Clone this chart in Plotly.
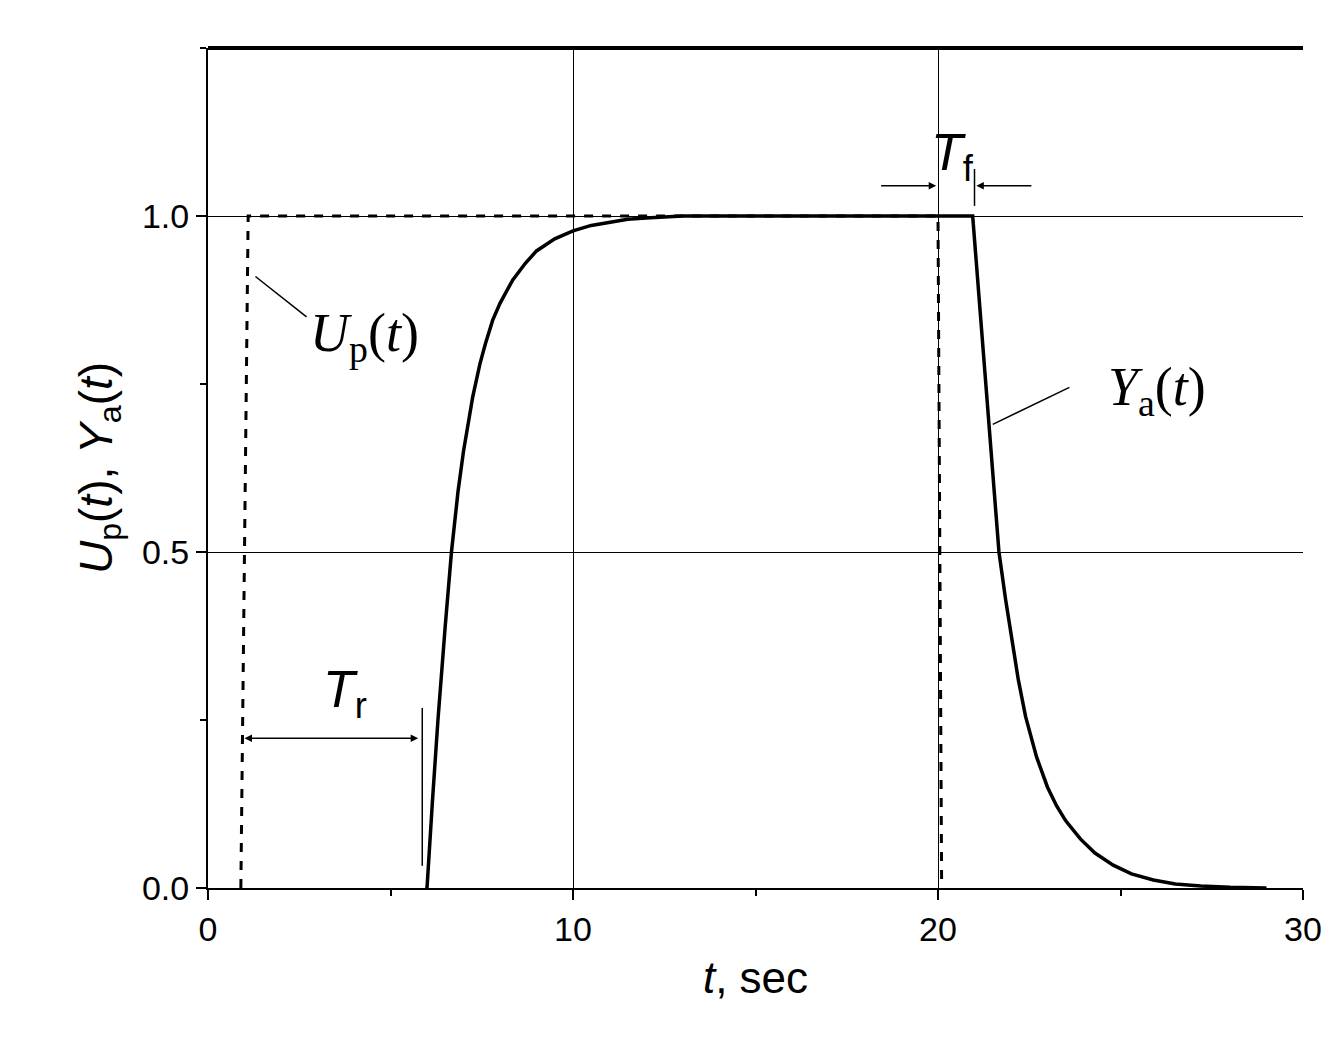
import plotly.graph_objects as go

up_t = [0.9, 1.1, 20.0, 20.1]
up_y = [0, 1.0, 1.0, 0]

ya_t = [5.95, 6.0, 6.15, 6.3, 6.5, 6.67, 6.85, 7.0, 7.25, 7.45, 7.6, 7.8, 8.0, 8.35, 8.7, 9.0, 9.5,
        10.0, 10.5, 11.0, 11.5, 12.0, 13.0, 20.95,
        21.05, 21.2, 21.35, 21.5, 21.67, 21.85, 22.0, 22.2, 22.4, 22.7, 23.0, 23.25, 23.5, 23.9,
        24.3, 24.8, 25.3, 25.9, 26.5, 27.2, 28.0, 29.0]
ya_y = [0, 0, 0.13, 0.25, 0.39, 0.5, 0.59, 0.65, 0.73, 0.78, 0.81, 0.845, 0.87, 0.905, 0.93, 0.948, 0.966,
        0.978, 0.986, 0.991, 0.995, 0.997, 1.0, 1.0,
        0.93, 0.83, 0.73, 0.63, 0.5, 0.43, 0.38, 0.31, 0.255, 0.195, 0.15, 0.122, 0.1, 0.073,
        0.052, 0.034, 0.021, 0.012, 0.006, 0.003, 0.001, 0.0]

fig = go.Figure()
fig.add_trace(go.Scatter(x=up_t, y=up_y, mode="lines", line=dict(color="black", width=3, dash="dash")))
fig.add_trace(go.Scatter(x=ya_t, y=ya_y, mode="lines", line=dict(color="black", width=3.5)))

ax = dict(showline=True, linecolor="black", linewidth=2, ticks="outside", ticklen=10, tickwidth=2,
          tickcolor="black", showgrid=True, gridcolor="black", gridwidth=1, zeroline=False,
          tickfont=dict(family="Liberation Sans, Arial", size=34, color="black"),
          minor=dict(ticks="outside", ticklen=6, tickwidth=2, tickcolor="black", showgrid=False))
fig.update_xaxes(range=[0, 30], tickvals=[0, 10, 20, 30], minor_dtick=5, **ax,
                 title=dict(text="<i>t</i>, sec", standoff=15, font=dict(family="Liberation Sans, Arial", size=44, color="black")))
fig.update_yaxes(range=[0, 1.25], tickvals=[0, 0.5, 1.0], ticktext=["0.0", "0.5", "1.0"], minor_dtick=0.25, **ax,
                 title=dict(text="<i>U</i><sub>p</sub>(<i>t</i>), <i>Y</i><sub>a</sub>(<i>t</i>)", standoff=15,
                            font=dict(family="Liberation Sans, Arial", size=46, color="black")))

serif = dict(family="Liberation Serif, Times New Roman", size=54, color="black")
sans = dict(family="Liberation Sans, Arial", size=52, color="black")
shapes = [
    dict(type="line", xref="paper", yref="paper", x0=0, x1=1, y0=1, y1=1, line=dict(color="black", width=4)),
    dict(type="line", x0=1.3, y0=0.91, x1=2.7, y1=0.85, line=dict(color="black", width=1.5)),
    dict(type="line", x0=21.5, y0=0.69, x1=23.6, y1=0.745, line=dict(color="black", width=1.5)),
    dict(type="line", x0=5.87, y0=0.033, x1=5.87, y1=0.268, line=dict(color="black", width=1.5)),
    dict(type="line", x0=21.0, y0=1.015, x1=21.0, y1=1.07, line=dict(color="black", width=1.5)),
]
anns = [
    dict(x=4.3, y=0.82, text="<i>U</i><sub>p</sub>(<i>t</i>)", showarrow=False, font=serif),
    dict(x=26.0, y=0.74, text="<i>Y</i><sub>a</sub>(<i>t</i>)", showarrow=False, font=serif),
    dict(x=3.75, y=0.29, text="<i>T</i><sub>r</sub>", showarrow=False, font=sans),
    dict(x=20.4, y=1.09, text="<i>T</i><sub>f</sub>", showarrow=False, font=sans),
    dict(x=1.0, y=0.223, ax=5.8, ay=0.223, axref="x", ayref="y", text="", showarrow=True,
         arrowhead=2, arrowside="end+start", arrowwidth=1.5, arrowcolor="black"),
    dict(x=19.95, y=1.045, ax=18.4, ay=1.045, axref="x", ayref="y", text="", showarrow=True,
         arrowhead=2, arrowwidth=1.5, arrowcolor="black"),
    dict(x=21.05, y=1.045, ax=22.6, ay=1.045, axref="x", ayref="y", text="", showarrow=True,
         arrowhead=2, arrowwidth=1.5, arrowcolor="black"),
]
fig.update_layout(width=1344, height=1058, margin=dict(l=200, r=49, t=40, b=178),
                  plot_bgcolor="white", paper_bgcolor="white", showlegend=False,
                  shapes=shapes, annotations=anns)
fig.write_html("out.html")
